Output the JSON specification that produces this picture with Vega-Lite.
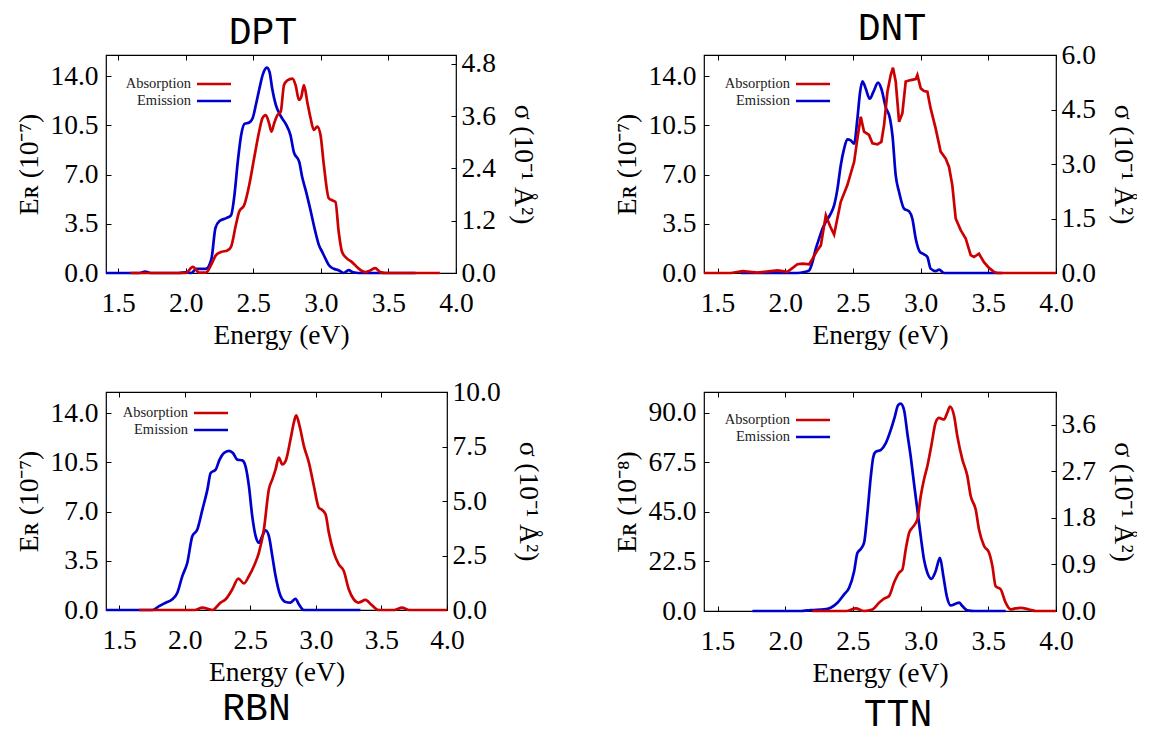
{
  "$schema": "https://vega.github.io/schema/vega-lite/v6.json",
  "background": "white",
  "padding": {"left": 15, "top": 9, "right": 0, "bottom": 0},
  "columns": 2,
  "spacing": {"row": 119, "column": 248},
  "bounds": "flush",
  "resolve": {"scale": {"color": "independent"}},
  "config": {
    "font": "Liberation Serif",
    "view": {"stroke": "black", "strokeWidth": 1.2},
    "axis": {"grid": false, "domain": false, "tickColor": "black", "tickSize": -5, "tickWidth": 1,
      "labelFont": "Liberation Serif", "labelFontSize": 27.5, "labelColor": "black", "labelFlush": false, "labelOverlap": false, "labelBound": false,
      "titleFont": "Liberation Serif", "titleFontSize": 27.5, "titleFontWeight": "normal", "titleColor": "black"},
    "axisLeft": {"labelPadding": 13, "titlePadding": 6},
    "axisRight": {"labelPadding": 10, "titlePadding": 13},
    "axisBottom": {"labelPadding": 21, "titlePadding": 5},
    "legend": {"orient": "none", "title": null, "symbolType": "M-2,0H2", "symbolSize": 289, "symbolStrokeWidth": 3,
      "labelFont": "Liberation Serif", "labelFontSize": 14.5, "labelColor": "#222", "labelAlign": "right", "labelOffset": -33, "rowPadding": -1, "padding": 0},
    "title": {"font": "Liberation Mono", "fontSize": 38, "fontWeight": "normal", "color": "black", "frame": "group"},
    "line": {"strokeWidth": 2.7}
  },
  "datasets": {
    "DPT_em": [
      {"energy":1.41,"value":0},{"energy":1.6,"value":0},{"energy":1.66,"value":0},{"energy":1.70,"value":0.1},{"energy":1.74,"value":0},{"energy":1.95,"value":0},{"energy":2.0,"value":0.05},{"energy":2.04,"value":0},{"energy":2.08,"value":0.3},{"energy":2.15,"value":0.3},{"energy":2.19,"value":1.0},{"energy":2.22,"value":3.2},{"energy":2.25,"value":3.7},{"energy":2.30,"value":3.9},{"energy":2.335,"value":4.1},{"energy":2.36,"value":5.5},{"energy":2.385,"value":7.9},{"energy":2.41,"value":9.8},{"energy":2.435,"value":10.6},{"energy":2.47,"value":10.7},{"energy":2.495,"value":11.0},{"energy":2.52,"value":12.0},{"energy":2.545,"value":13.1},{"energy":2.57,"value":14.1},{"energy":2.60,"value":14.6},{"energy":2.62,"value":14.3},{"energy":2.64,"value":13.1},{"energy":2.665,"value":12.0},{"energy":2.70,"value":11.2},{"energy":2.74,"value":10.6},{"energy":2.775,"value":9.8},{"energy":2.80,"value":8.6},{"energy":2.84,"value":7.9},{"energy":2.86,"value":6.9},{"energy":2.89,"value":5.8},{"energy":2.92,"value":4.6},{"energy":2.96,"value":2.9},{"energy":2.985,"value":2.0},{"energy":3.01,"value":1.5},{"energy":3.035,"value":1.0},{"energy":3.06,"value":0.55},{"energy":3.095,"value":0.3},{"energy":3.13,"value":0.2},{"energy":3.17,"value":0},{"energy":3.205,"value":0.2},{"energy":3.24,"value":0.05},{"energy":3.28,"value":0},{"energy":3.70,"value":0}
    ],
    "DPT_ab": [
      {"energy":1.59,"value":0},{"energy":2.0,"value":0},{"energy":2.052,"value":0.14},{"energy":2.10,"value":0.01},{"energy":2.15,"value":0.01},{"energy":2.187,"value":0.18},{"energy":2.224,"value":0.41},{"energy":2.261,"value":0.48},{"energy":2.31,"value":0.52},{"energy":2.335,"value":0.60},{"energy":2.371,"value":1.10},{"energy":2.396,"value":1.41},{"energy":2.433,"value":1.56},{"energy":2.47,"value":2.02},{"energy":2.506,"value":2.63},{"energy":2.543,"value":3.24},{"energy":2.568,"value":3.55},{"energy":2.592,"value":3.62},{"energy":2.617,"value":3.43},{"energy":2.634,"value":3.24},{"energy":2.654,"value":3.43},{"energy":2.678,"value":3.62},{"energy":2.703,"value":3.70},{"energy":2.727,"value":4.31},{"energy":2.752,"value":4.42},{"energy":2.789,"value":4.46},{"energy":2.813,"value":4.31},{"energy":2.838,"value":3.97},{"energy":2.855,"value":4.04},{"energy":2.875,"value":4.31},{"energy":2.899,"value":3.93},{"energy":2.924,"value":3.55},{"energy":2.948,"value":3.28},{"energy":2.973,"value":3.36},{"energy":2.997,"value":3.17},{"energy":3.022,"value":2.48},{"energy":3.059,"value":1.71},{"energy":3.083,"value":1.67},{"energy":3.108,"value":1.63},{"energy":3.132,"value":0.94},{"energy":3.157,"value":0.48},{"energy":3.194,"value":0.33},{"energy":3.23,"value":0.25},{"energy":3.28,"value":0.10},{"energy":3.329,"value":0.02},{"energy":3.366,"value":0.06},{"energy":3.402,"value":0.11},{"energy":3.439,"value":0.02},{"energy":3.476,"value":0},{"energy":3.88,"value":0}
    ],
    "DNT_em": [
      {"energy":1.672,"value":0},{"energy":2.09,"value":0},{"energy":2.14,"value":0.07},{"energy":2.177,"value":0.19},{"energy":2.201,"value":0.78},{"energy":2.226,"value":1.73},{"energy":2.25,"value":2.44},{"energy":2.275,"value":3.15},{"energy":2.30,"value":3.63},{"energy":2.336,"value":4.22},{"energy":2.361,"value":4.81},{"energy":2.386,"value":6.0},{"energy":2.41,"value":7.65},{"energy":2.435,"value":8.84},{"energy":2.459,"value":9.5},{"energy":2.484,"value":9.43},{"energy":2.509,"value":9.19},{"energy":2.533,"value":10.97},{"energy":2.553,"value":12.87},{"energy":2.57,"value":13.63},{"energy":2.595,"value":13.1},{"energy":2.624,"value":12.39},{"energy":2.651,"value":12.87},{"energy":2.686,"value":13.53},{"energy":2.71,"value":13.1},{"energy":2.742,"value":11.8},{"energy":2.774,"value":10.97},{"energy":2.792,"value":9.79},{"energy":2.816,"value":6.94},{"energy":2.841,"value":5.76},{"energy":2.878,"value":4.57},{"energy":2.915,"value":4.38},{"energy":2.939,"value":3.86},{"energy":2.964,"value":2.44},{"energy":2.996,"value":1.49},{"energy":3.025,"value":1.33},{"energy":3.05,"value":1.14},{"energy":3.074,"value":0.31},{"energy":3.111,"value":0.14},{"energy":3.136,"value":0.24},{"energy":3.173,"value":0},{"energy":3.603,"value":0}
    ],
    "DNT_ab": [
      {"energy":1.40,"value":0},{"energy":1.60,"value":0},{"energy":1.685,"value":0.05},{"energy":1.795,"value":0.01},{"energy":1.943,"value":0.07},{"energy":2.017,"value":0.03},{"energy":2.09,"value":0.24},{"energy":2.127,"value":0.26},{"energy":2.177,"value":0.24},{"energy":2.201,"value":0.39},{"energy":2.238,"value":0.63},{"energy":2.263,"value":0.76},{"energy":2.30,"value":1.59},{"energy":2.33,"value":1.30},{"energy":2.361,"value":1.06},{"energy":2.41,"value":1.96},{"energy":2.459,"value":2.42},{"energy":2.509,"value":3.06},{"energy":2.533,"value":3.70},{"energy":2.558,"value":4.30},{"energy":2.582,"value":3.89},{"energy":2.619,"value":3.80},{"energy":2.644,"value":3.57},{"energy":2.681,"value":3.54},{"energy":2.71,"value":3.61},{"energy":2.73,"value":4.07},{"energy":2.755,"value":4.99},{"energy":2.779,"value":5.45},{"energy":2.796,"value":5.65},{"energy":2.816,"value":5.27},{"energy":2.841,"value":4.16},{"energy":2.865,"value":4.39},{"energy":2.89,"value":5.27},{"energy":2.927,"value":5.31},{"energy":2.964,"value":5.34},{"energy":2.976,"value":5.45},{"energy":3.001,"value":5.08},{"energy":3.025,"value":5.01},{"energy":3.05,"value":4.99},{"energy":3.074,"value":4.53},{"energy":3.111,"value":3.98},{"energy":3.148,"value":3.34},{"energy":3.185,"value":3.15},{"energy":3.21,"value":2.92},{"energy":3.234,"value":2.42},{"energy":3.259,"value":1.50},{"energy":3.296,"value":1.18},{"energy":3.333,"value":0.95},{"energy":3.37,"value":0.49},{"energy":3.394,"value":0.44},{"energy":3.431,"value":0.53},{"energy":3.468,"value":0.30},{"energy":3.505,"value":0.14},{"energy":3.542,"value":0.03},{"energy":3.566,"value":0},{"energy":4.0,"value":0}
    ],
    "RBN_em": [
      {"energy":1.40,"value":0},{"energy":1.754,"value":0},{"energy":1.805,"value":0.28},{"energy":1.855,"value":0.52},{"energy":1.906,"value":0.76},{"energy":1.944,"value":1.23},{"energy":1.982,"value":2.41},{"energy":2.02,"value":3.36},{"energy":2.058,"value":5.25},{"energy":2.096,"value":5.72},{"energy":2.135,"value":7.14},{"energy":2.173,"value":8.56},{"energy":2.198,"value":9.74},{"energy":2.236,"value":9.98},{"energy":2.266,"value":10.69},{"energy":2.299,"value":11.16},{"energy":2.338,"value":11.32},{"energy":2.368,"value":11.16},{"energy":2.401,"value":10.69},{"energy":2.439,"value":10.64},{"energy":2.464,"value":10.21},{"energy":2.49,"value":8.79},{"energy":2.515,"value":6.67},{"energy":2.541,"value":5.25},{"energy":2.566,"value":4.78},{"energy":2.591,"value":5.25},{"energy":2.617,"value":5.67},{"energy":2.642,"value":5.25},{"energy":2.668,"value":3.83},{"energy":2.693,"value":2.41},{"energy":2.731,"value":0.99},{"energy":2.769,"value":0.57},{"energy":2.807,"value":0.52},{"energy":2.845,"value":0.80},{"energy":2.871,"value":0.40},{"energy":2.909,"value":0},{"energy":3.34,"value":0}
    ],
    "RBN_ab": [
      {"energy":1.652,"value":0},{"energy":2.08,"value":0},{"energy":2.135,"value":0.11},{"energy":2.211,"value":0},{"energy":2.274,"value":0.34},{"energy":2.312,"value":0.49},{"energy":2.363,"value":0.95},{"energy":2.409,"value":1.44},{"energy":2.452,"value":1.22},{"energy":2.49,"value":1.56},{"energy":2.528,"value":2.02},{"energy":2.566,"value":2.63},{"energy":2.604,"value":3.70},{"energy":2.642,"value":5.54},{"energy":2.668,"value":5.99},{"energy":2.693,"value":6.45},{"energy":2.718,"value":6.99},{"energy":2.744,"value":6.68},{"energy":2.769,"value":6.83},{"energy":2.807,"value":7.83},{"energy":2.832,"value":8.59},{"energy":2.85,"value":8.93},{"energy":2.876,"value":8.44},{"energy":2.909,"value":7.52},{"energy":2.947,"value":6.76},{"energy":2.985,"value":5.69},{"energy":3.023,"value":4.69},{"energy":3.048,"value":4.59},{"energy":3.074,"value":4.39},{"energy":3.099,"value":3.55},{"energy":3.137,"value":2.63},{"energy":3.175,"value":2.09},{"energy":3.213,"value":1.79},{"energy":3.251,"value":0.95},{"energy":3.289,"value":0.49},{"energy":3.327,"value":0.34},{"energy":3.378,"value":0.46},{"energy":3.429,"value":0.21},{"energy":3.48,"value":0},{"energy":3.60,"value":0},{"energy":3.657,"value":0.11},{"energy":3.708,"value":0},{"energy":4.0,"value":0}
    ],
    "TTN_em": [
      {"energy":1.758,"value":0},{"energy":2.115,"value":0},{"energy":2.189,"value":0.45},{"energy":2.287,"value":0.75},{"energy":2.336,"value":1.51},{"energy":2.386,"value":3.77},{"energy":2.435,"value":7.54},{"energy":2.472,"value":10.55},{"energy":2.509,"value":18.09},{"energy":2.533,"value":26.38},{"energy":2.558,"value":28.19},{"energy":2.582,"value":30.91},{"energy":2.607,"value":44.47},{"energy":2.632,"value":61.06},{"energy":2.651,"value":70.10},{"energy":2.669,"value":72.37},{"energy":2.705,"value":73.12},{"energy":2.742,"value":76.13},{"energy":2.779,"value":82.16},{"energy":2.809,"value":88.19},{"energy":2.833,"value":93.47},{"energy":2.853,"value":94.23},{"energy":2.878,"value":91.21},{"energy":2.902,"value":80.66},{"energy":2.927,"value":70.10},{"energy":2.951,"value":58.04},{"energy":2.976,"value":45.98},{"energy":3.001,"value":33.92},{"energy":3.025,"value":23.37},{"energy":3.05,"value":17.34},{"energy":3.079,"value":14.62},{"energy":3.111,"value":18.09},{"energy":3.143,"value":24.12},{"energy":3.168,"value":15.83},{"energy":3.193,"value":6.78},{"energy":3.222,"value":2.56},{"energy":3.259,"value":3.32},{"energy":3.284,"value":3.77},{"energy":3.308,"value":2.26},{"energy":3.345,"value":0.3},{"energy":3.40,"value":0},{"energy":3.628,"value":0}
    ],
    "TTN_ab": [
      {"energy":2.2,"value":0},{"energy":2.45,"value":0},{"energy":2.521,"value":0.05},{"energy":2.582,"value":0},{"energy":2.644,"value":0.03},{"energy":2.693,"value":0.16},{"energy":2.73,"value":0.24},{"energy":2.767,"value":0.29},{"energy":2.804,"value":0.55},{"energy":2.841,"value":0.74},{"energy":2.865,"value":0.80},{"energy":2.89,"value":1.19},{"energy":2.915,"value":1.51},{"energy":2.939,"value":1.61},{"energy":2.976,"value":1.77},{"energy":3.001,"value":2.22},{"energy":3.025,"value":2.54},{"energy":3.05,"value":2.80},{"energy":3.079,"value":3.19},{"energy":3.111,"value":3.64},{"energy":3.136,"value":3.73},{"energy":3.173,"value":3.70},{"energy":3.197,"value":3.83},{"energy":3.217,"value":3.95},{"energy":3.247,"value":3.77},{"energy":3.271,"value":3.38},{"energy":3.308,"value":2.93},{"energy":3.345,"value":2.61},{"energy":3.37,"value":2.22},{"energy":3.407,"value":1.96},{"energy":3.431,"value":1.58},{"energy":3.468,"value":1.26},{"energy":3.505,"value":1.13},{"energy":3.53,"value":0.87},{"energy":3.554,"value":0.48},{"energy":3.591,"value":0.42},{"energy":3.628,"value":0.16},{"energy":3.665,"value":0.03},{"energy":3.70,"value":0.05},{"energy":3.74,"value":0.06},{"energy":3.80,"value":0.03},{"energy":3.85,"value":0},{"energy":4.0,"value":0}
    ]
  },
  "concat": [
    {
      "title": {"text": "DPT", "dx": -18, "offset": -2},
      "width": 350, "height": 218,
      "resolve": {"scale": {"y": "independent"}, "axis": {"x": "independent"}},
      "layer": [
        {"data": {"name": "DPT_em"}, "mark": {"type": "line", "interpolate": "monotone"},
          "encoding": {
            "x": {"field": "energy", "type": "quantitative", "scale": {"domain": [1.41, 4.0], "nice": false, "zero": false}, "axis": {"orient": "bottom", "values": [1.5, 2, 2.5, 3, 3.5, 4], "format": ".1f", "title": "Energy (eV)"}},
            "y": {"field": "value", "type": "quantitative", "scale": {"domain": [0, 15.5], "nice": false}, "axis": {"orient": "left", "values": [0, 3.5, 7, 10.5, 14], "format": ".1f", "title": "Eʀ (10⁻⁷)"}},
            "color": {"datum": "Emission", "type": "nominal", "scale": {"domain": ["Absorption", "Emission"], "range": ["#cc0000", "#0000cc"]}, "legend": {"legendX": 98, "legendY": 19}}
          }},
        {"data": {"name": "DPT_ab"}, "mark": {"type": "line", "interpolate": "monotone"},
          "encoding": {
            "x": {"field": "energy", "type": "quantitative", "axis": {"orient": "top", "values": [1.5, 2, 2.5, 3, 3.5, 4], "labels": false, "title": null}},
            "y": {"field": "value", "type": "quantitative", "scale": {"domain": [0, 5], "nice": false}, "axis": {"orient": "right", "values": [0, 1.2, 2.4, 3.6, 4.8], "format": ".1f", "title": "σ (10⁻¹ Å²)"}},
            "color": {"datum": "Absorption", "type": "nominal"}
          }}
      ]
    },
    {
      "title": {"text": "DNT", "dx": 12, "offset": -7},
      "width": 352, "height": 218,
      "resolve": {"scale": {"y": "independent"}, "axis": {"x": "independent"}},
      "layer": [
        {"data": {"name": "DNT_em"}, "mark": {"type": "line", "interpolate": "monotone"},
          "encoding": {
            "x": {"field": "energy", "type": "quantitative", "scale": {"domain": [1.4, 4.0], "nice": false, "zero": false}, "axis": {"orient": "bottom", "values": [1.5, 2, 2.5, 3, 3.5, 4], "format": ".1f", "title": "Energy (eV)"}},
            "y": {"field": "value", "type": "quantitative", "scale": {"domain": [0, 15.5], "nice": false}, "axis": {"orient": "left", "values": [0, 3.5, 7, 10.5, 14], "format": ".1f", "title": "Eʀ (10⁻⁷)"}},
            "color": {"datum": "Emission", "type": "nominal", "scale": {"domain": ["Absorption", "Emission"], "range": ["#cc0000", "#0000cc"]}, "legend": {"legendX": 99, "legendY": 19}}
          }},
        {"data": {"name": "DNT_ab"}, "mark": {"type": "line", "interpolate": "linear"},
          "encoding": {
            "x": {"field": "energy", "type": "quantitative", "axis": {"orient": "top", "values": [1.5, 2, 2.5, 3, 3.5, 4], "labels": false, "title": null}},
            "y": {"field": "value", "type": "quantitative", "scale": {"domain": [0, 6], "nice": false}, "axis": {"orient": "right", "values": [0, 1.5, 3, 4.5, 6], "format": ".1f", "title": "σ (10⁻¹ Å²)"}},
            "color": {"datum": "Absorption", "type": "nominal"}
          }}
      ]
    },
    {
      "title": {"text": "RBN", "orient": "bottom", "dx": -20, "offset": 4},
      "width": 341, "height": 218,
      "resolve": {"scale": {"y": "independent"}, "axis": {"x": "independent"}},
      "layer": [
        {"data": {"name": "RBN_em"}, "mark": {"type": "line", "interpolate": "monotone"},
          "encoding": {
            "x": {"field": "energy", "type": "quantitative", "scale": {"domain": [1.4, 4.0], "nice": false, "zero": false}, "axis": {"orient": "bottom", "values": [1.5, 2, 2.5, 3, 3.5, 4], "format": ".1f", "title": "Energy (eV)"}},
            "y": {"field": "value", "type": "quantitative", "scale": {"domain": [0, 15.5], "nice": false}, "axis": {"orient": "left", "values": [0, 3.5, 7, 10.5, 14], "format": ".1f", "title": "Eʀ (10⁻⁷)"}},
            "color": {"datum": "Emission", "type": "nominal", "scale": {"domain": ["Absorption", "Emission"], "range": ["#cc0000", "#0000cc"]}, "legend": {"legendX": 95, "legendY": 11}}
          }},
        {"data": {"name": "RBN_ab"}, "mark": {"type": "line", "interpolate": "monotone"},
          "encoding": {
            "x": {"field": "energy", "type": "quantitative", "axis": {"orient": "top", "values": [1.5, 2, 2.5, 3, 3.5, 4], "labels": false, "title": null}},
            "y": {"field": "value", "type": "quantitative", "scale": {"domain": [0, 10], "nice": false}, "axis": {"orient": "right", "values": [0, 2.5, 5, 7.5, 10], "format": ".1f", "title": "σ (10⁻¹ Å²)"}},
            "color": {"datum": "Absorption", "type": "nominal"}
          }}
      ]
    },
    {
      "title": {"text": "TTN", "orient": "bottom", "dx": 18, "offset": 9},
      "width": 352, "height": 219,
      "resolve": {"scale": {"y": "independent"}, "axis": {"x": "independent"}},
      "layer": [
        {"data": {"name": "TTN_em"}, "mark": {"type": "line", "interpolate": "monotone"},
          "encoding": {
            "x": {"field": "energy", "type": "quantitative", "scale": {"domain": [1.4, 4.0], "nice": false, "zero": false}, "axis": {"orient": "bottom", "values": [1.5, 2, 2.5, 3, 3.5, 4], "format": ".1f", "title": "Energy (eV)"}},
            "y": {"field": "value", "type": "quantitative", "scale": {"domain": [0, 99.5], "nice": false}, "axis": {"orient": "left", "values": [0, 22.5, 45, 67.5, 90], "format": ".1f", "title": "Eʀ (10⁻⁸)"}},
            "color": {"datum": "Emission", "type": "nominal", "scale": {"domain": ["Absorption", "Emission"], "range": ["#cc0000", "#0000cc"]}, "legend": {"legendX": 99, "legendY": 18}}
          }},
        {"data": {"name": "TTN_ab"}, "mark": {"type": "line", "interpolate": "monotone"},
          "encoding": {
            "x": {"field": "energy", "type": "quantitative", "axis": {"orient": "top", "values": [1.5, 2, 2.5, 3, 3.5, 4], "labels": false, "title": null}},
            "y": {"field": "value", "type": "quantitative", "scale": {"domain": [0, 4.23], "nice": false}, "axis": {"orient": "right", "values": [0, 0.9, 1.8, 2.7, 3.6], "format": ".1f", "title": "σ (10⁻¹ Å²)"}},
            "color": {"datum": "Absorption", "type": "nominal"}
          }}
      ]
    }
  ]
}
